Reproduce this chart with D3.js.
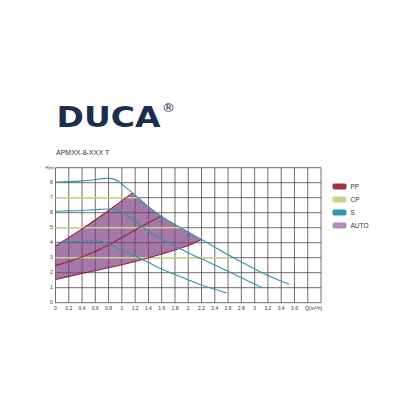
<!DOCTYPE html>
<html>
<head>
<meta charset="utf-8">
<script src="https://cdn.jsdelivr.net/npm/d3@7.9.0/dist/d3.min.js"></script>
<style>
  body { margin: 0; background: #fff; }
  svg { display: block; font-family: "Liberation Sans", Arial, sans-serif; }
</style>
</head>
<body>
<svg id="chart" width="416" height="416"></svg>
<script>
// flow Q (m3/h) vs head H (m)
const xTicks = [0, 0.2, 0.4, 0.6, 0.8, 1, 1.2, 1.4, 1.6, 1.8, 2, 2.2, 2.4, 2.6, 2.8, 3, 3.2, 3.4, 3.6];
const yTicks = [0, 1, 2, 3, 4, 5, 6, 7, 8];

// constant speed curves (S)
const sHigh = [[0, 8.05], [0.2, 8.07], [0.4, 8.12], [0.6, 8.21], [0.75, 8.29], [0.85, 8.27], [0.95, 8.08],
  [1.05, 7.72], [1.16, 7.32], [1.4, 6.4], [1.6, 5.75], [1.8, 5.22], [2.0, 4.72], [2.2, 4.22], [2.4, 3.7],
  [2.6, 3.2], [2.8, 2.72], [3.0, 2.25], [3.2, 1.82], [3.4, 1.45], [3.52, 1.23]];
const sMid = [[0, 6.1], [0.2, 6.12], [0.4, 6.15], [0.6, 6.2], [0.8, 6.25], [0.9, 6.22], [1.0, 6.05],
  [1.1, 5.78], [1.3, 5.1], [1.5, 4.5], [1.7, 4.0], [1.9, 3.55], [2.1, 3.12], [2.3, 2.72], [2.5, 2.3],
  [2.7, 1.88], [2.9, 1.45], [3.12, 1.0]];
const sLow = [[0, 4.02], [0.2, 4.06], [0.4, 4.12], [0.55, 4.15], [0.65, 4.13], [0.75, 4.02], [0.85, 3.82],
  [1.0, 3.52], [1.2, 3.1], [1.4, 2.68], [1.6, 2.24], [1.8, 1.88], [2.0, 1.52], [2.2, 1.18], [2.4, 0.9], [2.58, 0.64]];

// proportional pressure curves (PP)
const ppHigh = [[0, 3.78], [0.4, 4.92], [0.8, 6.15], [1.16, 7.32]];
const ppMid = [[0, 2.47], [0.4, 3.05], [0.8, 3.85], [1.2, 4.85], [1.6, 5.8]];
const ppLow = [[0, 1.55], [0.4, 1.95], [0.8, 2.33], [1.2, 2.75], [1.6, 3.25], [2.0, 3.82], [2.2, 4.22]];

// constant pressure levels (CP): [head, flow where it meets the max curve]
const cpLevels = [[7, 1.25], [5, 1.9], [3, 2.64]];

const legendLabels = ['PP', 'CP', 'S', 'AUTO'];
const legendColors = ['#a8303c', '#c8d58a', '#2e96aa', '#b48abd'];

const svg = d3.select('#chart');
const x = d3.scaleLinear().domain([0, 4]).range([55.5, 321]);
const y = d3.scaleLinear().domain([0, 9]).range([302.7, 167.7]);

// header
svg.append('text')
  .attr('x', 56.5).attr('y', 126.7)
  .attr('textLength', 104).attr('lengthAdjust', 'spacingAndGlyphs')
  .attr('font-family', '"DejaVu Sans", sans-serif')
  .attr('font-weight', 'bold').attr('font-size', 27.5)
  .attr('fill', '#1c2e50')
  .text('DUCA');
svg.append('text')
  .attr('x', 162).attr('y', 111.5)
  .attr('font-family', '"DejaVu Sans", sans-serif')
  .attr('font-size', 13).attr('fill', '#1c2e50')
  .text('®');
svg.append('text')
  .attr('x', 56).attr('y', 155)
  .attr('font-size', 7).attr('fill', '#333')
  .text('APMXX-8-XXX T');

// grid
const g = svg.append('g');
g.selectAll('line.v')
  .data(d3.range(0, 21).map(i => i * 0.2))
  .join('line')
  .attr('x1', d => x(d)).attr('x2', d => x(d))
  .attr('y1', y(0)).attr('y2', y(9))
  .attr('stroke', '#4a4a4a').attr('stroke-width', 0.8);
g.selectAll('line.h')
  .data(d3.range(0, 10))
  .join('line')
  .attr('x1', x(0)).attr('x2', x(4))
  .attr('y1', d => y(d)).attr('y2', d => y(d))
  .attr('stroke', '#4a4a4a').attr('stroke-width', 0.8);

// AUTO region
const topEdge = sHigh.filter(d => d[0] > 1.16 && d[0] < 2.2);
const autoPoly = [[0, 1.55], ...ppHigh, ...topEdge, ...ppLow.slice().reverse()];
svg.append('path')
  .attr('d', d3.line().x(d => x(d[0])).y(d => y(d[1])).curve(d3.curveLinear)(autoPoly) + 'Z')
  .attr('fill', '#7a3a7e').attr('fill-opacity', 0.68);

const line = d3.line().x(d => x(d[0])).y(d => y(d[1])).curve(d3.curveCatmullRom.alpha(0.5));

// CP
svg.selectAll('line.cp')
  .data(cpLevels)
  .join('line')
  .attr('x1', x(0)).attr('x2', d => x(d[1]))
  .attr('y1', d => y(d[0])).attr('y2', d => y(d[0]))
  .attr('stroke', '#c8d58a').attr('stroke-width', 1.4);

// PP
[ppHigh, ppMid, ppLow].forEach(s => {
  svg.append('path').attr('d', line(s))
    .attr('fill', 'none').attr('stroke', '#9c1f36').attr('stroke-width', 1.1);
});

// S
[sHigh, sMid, sLow].forEach(s => {
  svg.append('path').attr('d', line(s))
    .attr('fill', 'none').attr('stroke', '#2e96aa').attr('stroke-width', 1.1);
});

// axis labels
svg.selectAll('text.xt')
  .data(xTicks)
  .join('text')
  .attr('x', d => x(d)).attr('y', 309.5)
  .attr('text-anchor', 'middle').attr('font-size', 5).attr('fill', '#333')
  .text(d => String(d));
svg.append('text')
  .attr('x', 313.5).attr('y', 309.5)
  .attr('text-anchor', 'middle').attr('font-size', 5).attr('fill', '#333')
  .text('Q(m³/h)');
svg.selectAll('text.yt')
  .data(yTicks)
  .join('text')
  .attr('x', 51.5).attr('y', d => y(d) + 1.7)
  .attr('text-anchor', 'middle').attr('font-size', 5).attr('fill', '#333')
  .text(d => d);
svg.append('text')
  .attr('x', 50).attr('y', 168.5)
  .attr('text-anchor', 'middle').attr('font-size', 4).attr('fill', '#333')
  .text('H(m)');

// legend
const leg = svg.append('g').attr('transform', 'translate(332.5,186.5)');
legendLabels.forEach((lab, i) => {
  leg.append('rect')
    .attr('x', 0).attr('y', i * 13 - 3)
    .attr('width', 14).attr('height', 6).attr('rx', 2)
    .attr('fill', legendColors[i]);
  leg.append('text')
    .attr('x', 18).attr('y', i * 13 + 2.3)
    .attr('font-size', 6.5).attr('fill', '#333')
    .text(lab);
});
</script>
</body>
</html>
